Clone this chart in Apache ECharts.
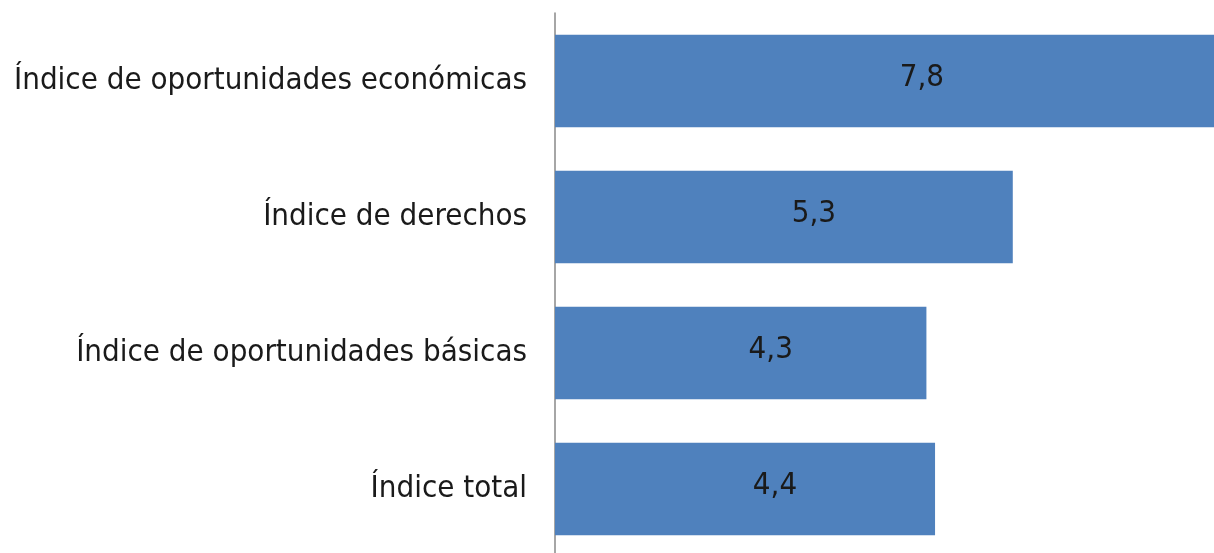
<!DOCTYPE html>
<html lang="es">
<head>
<meta charset="UTF-8">
<title>Índices</title>
<script src="https://cdn.jsdelivr.net/npm/echarts@6/dist/echarts.min.js"></script>
<style>
  html, body { margin: 0; padding: 0; background: #fff; }
  #chart { width: 1214px; height: 553px; }
</style>
</head>
<body>
<div id="chart"></div>
<script>
// categorias, de arriba hacia abajo
var categories = [
  'Índice de oportunidades económicas',
  'Índice de derechos',
  'Índice de oportunidades básicas',
  'Índice total'
];
var values = [7.8, 5.3, 4.3, 4.4];

var font = '"DejaVu Sans Condensed", sans-serif';

var chart = echarts.init(document.getElementById('chart'));
chart.setOption({
  animation: false,
  grid: { left: 555, top: 13, width: 691, height: 544, outerBoundsMode: 'none', containLabel: false },
  xAxis: {
    type: 'value',
    min: 0,
    max: 8,
    show: false
  },
  yAxis: {
    type: 'category',
    inverse: true,
    data: categories,
    axisLine: { show: true, lineStyle: { color: '#898989', width: 1.5 } },
    axisTick: { show: false },
    axisLabel: {
      margin: 28,
      color: '#1a1a1a',
      fontFamily: font,
      fontSize: 31
    }
  },
  series: [{
    type: 'bar',
    data: values,
    barCategoryGap: '32%',
    itemStyle: { color: '#4f81bd' },
    label: {
      show: true,
      position: 'inside',
      offset: [30, -3],
      color: '#1a1a1a',
      fontFamily: font,
      fontSize: 31,
      formatter: function (p) {
        return p.value.toFixed(1).replace('.', ',');
      }
    }
  }]
});
</script>
</body>
</html>
